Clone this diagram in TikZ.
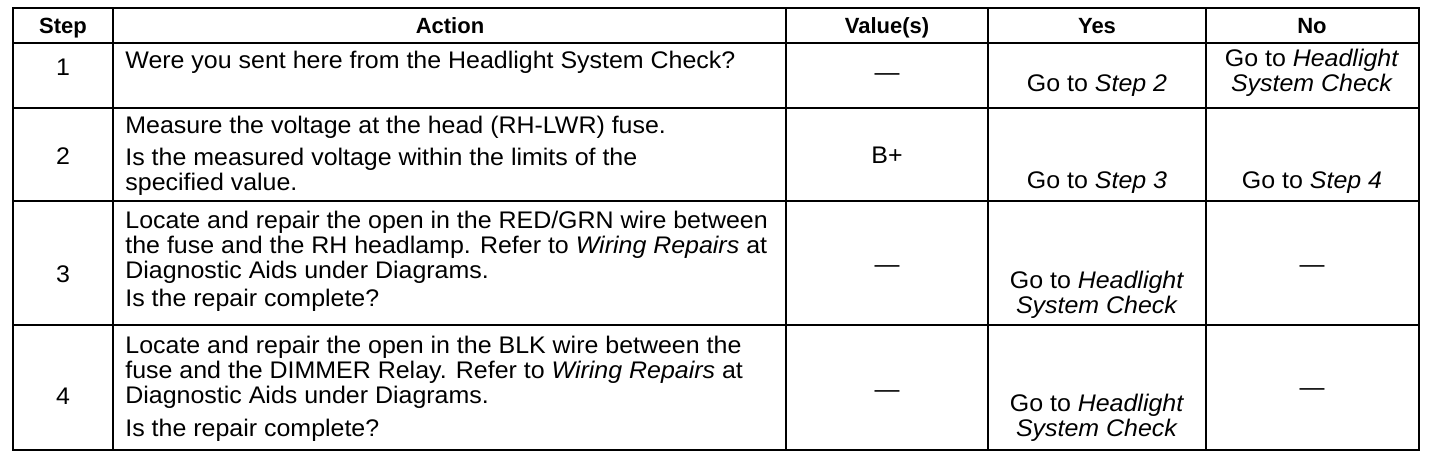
\documentclass[tikz,border=0pt]{standalone}
\usepackage{fontspec}
\setmainfont{Liberation Sans}
\newfontfamily\bodyfont[Ligatures=TeX, FakeStretch=1.04]{Liberation Sans}

\begin{document}
\begin{tikzpicture}[x=0.5pt, y=-0.5pt,
    rule/.style={line width=1.3pt},
    head/.style={font=\fontsize{11pt}{13pt}\selectfont\bfseries, anchor=base, inner sep=0pt},
    cell/.style={font=\bodyfont\fontsize{12pt}{12.5pt}\selectfont, anchor=base, inner sep=0pt, align=center},
    action/.style={font=\bodyfont\fontsize{12pt}{12.5pt}\selectfont, anchor=base west, inner sep=0pt, align=left}
  ]
  \useasboundingbox (0,0) rectangle (1456,472);

  % Table grid
  \draw[rule] (13,8) rectangle (1419,450);
  \foreach \x in {113,786,988,1206}
    \draw[rule] (\x,8) -- (\x,450);
  \foreach \y in {43,108,201,325}
    \draw[rule] (13,\y) -- (1419,\y);

  % Header
  \node[head] (hstep) at (63,33) {Step};
  \node[head] (haction) at (450,33) {Action};
  \node[head] (hvalue) at (887,33) {Value(s)};
  \node[head] (hyes) at (1097,33) {Yes};
  \node[head] (hno) at (1312,33) {No};

  % Step 1 (multi-line cells sit on their last baseline)
  \node[cell] (step1) at (63,75) {1};
  \node[action] (act1) at (125,68) {Were you sent here from the Headlight System Check?};
  \node[cell] (val1) at (887,80) {---};
  \node[cell] (yes1) at (1097,91) {Go to \textit{Step 2}};
  \node[cell] (no1) at (1312,91) {Go to \textit{Headlight}\\\textit{System Check}};

  % Step 2
  \node[cell] (step2) at (63,164) {2};
  \node[action] (act2) at (125,190) {Measure the voltage at the head (RH-LWR) fuse.\\[3.5pt]
    Is the measured voltage within the limits of the\\specified value.};
  \node[cell] (val2) at (887,163) {B+};
  \node[cell] (yes2) at (1097,188) {Go to \textit{Step 3}};
  \node[cell] (no2) at (1312,188) {Go to \textit{Step 4}};

  % Step 3
  \node[cell] (step3) at (63,282) {3};
  \node[action] (act3) at (125,306) {Locate and repair the open in the RED/GRN wire between\\
    the fuse and the RH headlamp. Refer to \textit{Wiring Repairs} at\\
    Diagnostic Aids under Diagrams.\\[1.5pt]
    Is the repair complete?};
  \node[cell] (val3) at (887,272) {---};
  \node[cell] (yes3) at (1097,313) {Go to \textit{Headlight}\\\textit{System Check}};
  \node[cell] (no3) at (1312,272) {---};

  % Step 4
  \node[cell] (step4) at (63,404) {4};
  \node[action] (act4) at (125,436) {Locate and repair the open in the BLK wire between the\\
    fuse and the DIMMER Relay. Refer to \textit{Wiring Repairs} at\\
    Diagnostic Aids under Diagrams.\\[4pt]
    Is the repair complete?};
  \node[cell] (val4) at (887,397) {---};
  \node[cell] (yes4) at (1097,436) {Go to \textit{Headlight}\\\textit{System Check}};
  \node[cell] (no4) at (1312,395) {---};
\end{tikzpicture}
\end{document}
